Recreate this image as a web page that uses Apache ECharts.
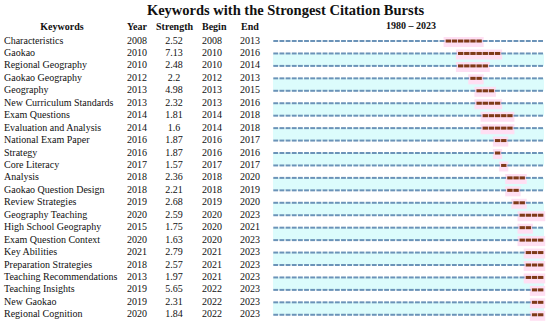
<!DOCTYPE html>
<html>
<head>
<meta charset="utf-8">
<script src="https://cdn.jsdelivr.net/npm/echarts@6/dist/echarts.min.js"></script>
<style>
html,body{margin:0;padding:0;background:#fff;}
#chart{width:550px;height:321px;}
</style>
</head>
<body>
<div id="chart"></div>
<script>
const keywords = ["Characteristics","Gaokao","Regional Geography","Gaokao Geography","Geography","New Curriculum Standards","Exam Questions","Evaluation and Analysis","National Exam Paper","Strategy","Core Literacy","Analysis","Gaokao Question Design","Review Strategies","Geography Teaching","High School Geography","Exam Question Context","Key Abilities","Preparation Strategies","Teaching Recommendations","Teaching Insights","New Gaokao","Regional Cognition"];
const years = [2008,2010,2010,2012,2013,2013,2014,2014,2016,2016,2017,2018,2018,2019,2020,2015,2020,2021,2018,2013,2019,2019,2020];
const strengths = ["2.52","7.13","2.48","2.2","4.98","2.32","1.81","1.6","1.87","1.87","1.57","2.36","2.21","2.68","2.59","1.75","1.63","2.79","2.57","1.97","5.65","2.31","1.84"];
const begins = [2008,2010,2010,2012,2013,2013,2014,2014,2016,2016,2017,2018,2018,2019,2020,2020,2020,2021,2021,2021,2022,2022,2022];
const ends = [2013,2016,2014,2013,2015,2016,2018,2018,2017,2016,2017,2020,2019,2020,2023,2021,2023,2023,2023,2023,2023,2023,2023];
const startYear = 1980, endYear = 2023;
const headers = ["Keywords","Year","Strength","Begin","End"];
const titleText = "Keywords with the Strongest Citation Bursts";
const rangeText = startYear + " \u2013 " + endYear;

const FONT = '"Liberation Serif","Times New Roman",serif';
const chart = echarts.init(document.getElementById('chart'), null, {renderer:'svg'});
const rows = keywords.map((k,i)=>[startYear, i, begins[i], ends[i]]);

function bandItem(params, api){
  const i = params.dataIndex;
  const p0 = api.coord([startYear, i]);
  const p1 = api.coord([endYear+1, i]);
  const h = api.size([0,1])[1];
  if (i % 2 !== 1) return {type:'group', children:[]};
  return {type:'rect', shape:{x:p0[0], y:p0[1], width:p1[0]-p0[0], height:h}, style:{fill:'#dcfcfc'}};
}
function pinkItem(params, api){
  const i = params.dataIndex;
  const a = api.coord([begins[i]-0.3, i]);
  const b = api.coord([ends[i]+1.2, i]);
  return {type:'rect', shape:{x:a[0], y:a[1]-4, width:b[0]-a[0], height:10}, style:{fill:'#ffdff3'}};
}
function lineItem(params, api){
  const i = params.dataIndex;
  const children = [];
  for (let y = startYear; y <= endYear; y++){
    const a = api.coord([y, i]);
    const b = api.coord([y+1, i]);
    const burst = y >= begins[i] && y <= ends[i];
    if (burst){
      children.push({type:'rect', shape:{x:a[0]+0.2, y:a[1]-1.5, width:b[0]-a[0]-0.8, height:3}, style:{fill:'#7e3a18'}});
    } else {
      children.push({type:'rect', shape:{x:a[0]+0.3, y:a[1]-1, width:b[0]-a[0]-1.3, height:2}, style:{fill:'#6b93b8'}});
    }
  }
  return {type:'group', children};
}
function tableItem(params, api){
  const i = params.dataIndex;
  const yc = api.coord([startYear, i])[1] - 1;
  const st = (text, x, align) => ({type:'text', style:{text, x, y:yc, fill:'#111', font:'10px ' + FONT, align, verticalAlign:'middle'}});
  return {type:'group', children:[
    st(keywords[i], 4, 'left'),
    st(String(years[i]), 127, 'left'),
    st(strengths[i], 174, 'center'),
    st(String(begins[i]), 202, 'left'),
    st(String(ends[i]), 240, 'left')
  ]};
}

const hdrX = [62,127,156,202,241];
const hdrAlign = ['center','left','left','left','left'];
const graphics = [
  {type:'text', style:{text:titleText, x:285.5, y:10, fill:'#111', font:'bold 14.5px ' + FONT, align:'center', verticalAlign:'middle'}},
  {type:'text', style:{text:rangeText, x:411, y:25, fill:'#111', font:'bold 10px ' + FONT, align:'center', verticalAlign:'middle'}}
].concat(headers.map((h,k)=>({type:'text', style:{text:h, x:hdrX[k], y:26, fill:'#111', font:'bold 10px ' + FONT, align:hdrAlign[k], verticalAlign:'middle'}})));

chart.setOption({
  animation:false,
  backgroundColor:'#fff',
  grid:{left:273, right:6, top:34.8, height:286.4},
  xAxis:{type:'value', min:startYear, max:endYear+1, show:false},
  yAxis:{type:'category', data:keywords, inverse:true, show:false},
  graphic:graphics,
  series:[
    {type:'custom', renderItem:bandItem, data:rows, encode:{x:0,y:1}, silent:true},
    {type:'custom', renderItem:pinkItem, data:rows, encode:{x:0,y:1}, silent:true},
    {type:'custom', renderItem:lineItem, data:rows, encode:{x:0,y:1}, silent:true},
    {type:'custom', renderItem:tableItem, data:rows, encode:{x:0,y:1}, silent:true, clip:false}
  ]
});
</script>
</body>
</html>
